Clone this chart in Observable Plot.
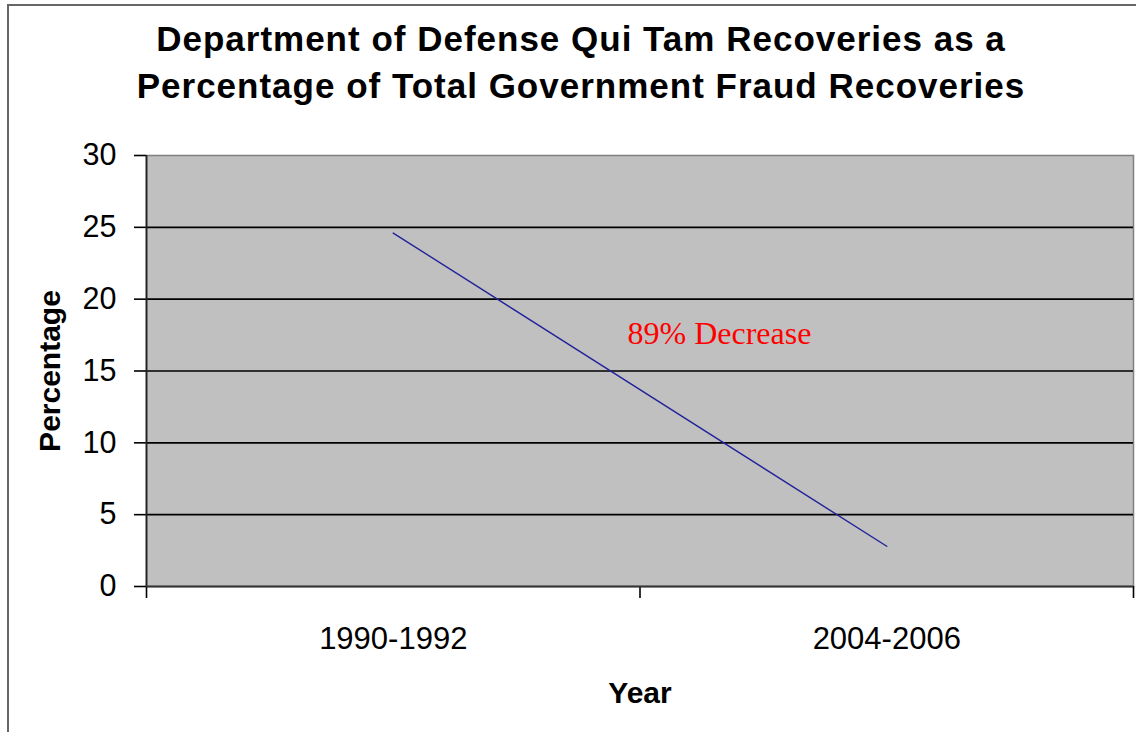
<!DOCTYPE html>
<html>
<head>
<meta charset="utf-8">
<script src="https://cdn.jsdelivr.net/npm/d3@7"></script>
<script src="https://cdn.jsdelivr.net/npm/@observablehq/plot@0.6"></script>
<style>
  html, body { margin: 0; padding: 0; background: white; overflow: hidden; width: 1136px; height: 732px; }
  #title {
    position: absolute; top: 15px; left: 0; width: 1136px; padding-left: 26px; box-sizing: border-box;
    text-align: center; font-family: "Liberation Sans", Arial, sans-serif; font-weight: bold;
    font-size: 35px; line-height: 47px; letter-spacing: 1px; color: #000;
  }
  #chart { position: absolute; top: 120px; left: 0; }
  #border { position: absolute; left: 7px; top: 4px; width: 1300px; height: 900px; border: 2px solid #666; pointer-events: none; z-index: 5; }
</style>
</head>
<body>
<div id="title">Department of Defense Qui Tam Recoveries as a<br>Percentage of Total Government Fraud Recoveries</div>
<div id="chart"></div>
<div id="border"></div>
<script>
const categories = ["1990-1992", "2004-2006"];
const values = [24.6, 2.8];
const yTicks = [0, 5, 10, 15, 20, 25, 30];
const annotationText = "89% Decrease";
const xTitle = "Year";
const yTitle = "Percentage";

const data = categories.map((c, i) => ({ idx: i + 0.5, category: c, value: values[i] }));
const boundaries = d3.range(categories.length + 1);
const mid = [{ idx: d3.mean(data, d => d.idx), value: d3.mean(values), text: annotationText }];

const chart = Plot.plot({
  width: 1136,
  height: 612,
  marginTop: 35,
  marginBottom: 146,
  marginLeft: 146,
  marginRight: 3,
  style: { fontFamily: "'Liberation Sans', Arial, sans-serif", fontSize: "30px", background: "transparent", color: "#000" },
  x: { domain: [0, categories.length], axis: null },
  y: { domain: [0, 30], axis: null },
  marks: [
    Plot.frame({ fill: "#c0c0c0", stroke: "#808080", strokeWidth: 1.5 }),
    Plot.ruleY(yTicks.filter(v => v > 0 && v < 30), { stroke: "#000", strokeWidth: 1.6 }),
    Plot.axisY({ ticks: yTicks, tickSize: 12, tickPadding: 18, label: null, fontSize: 30.5, strokeWidth: 1.6 }),
    Plot.axisX({ ticks: boundaries, tickSize: 12, tickFormat: () => "", label: null, strokeWidth: 1.6 }),
    Plot.axisX({ ticks: data.map(d => d.idx), tickSize: 0, tickPadding: 40, tickFormat: v => categories[Math.round(v - 0.5)], label: null, fontSize: 31 }),
    Plot.ruleX([0], { stroke: "#222", strokeWidth: 1.8 }),
    Plot.ruleY([0], { stroke: "#333", strokeWidth: 2 }),
    Plot.line(data, { x: "idx", y: "value", stroke: "#22229a", strokeWidth: 1.4 }),
    Plot.text(mid, { x: "idx", y: "value", text: "text", textAnchor: "start", lineAnchor: "bottom", dx: -12.5, dy: -46,
      fill: "#ff0000", fontFamily: "'Liberation Serif', 'Times New Roman', serif", fontSize: 32 }),
    Plot.text([xTitle], { frameAnchor: "bottom", lineAnchor: "bottom", dy: 116, fontWeight: "bold", fontSize: 30 }),
    Plot.text([yTitle], { frameAnchor: "left", textAnchor: "middle", rotate: -90, dx: -96, fontWeight: "bold", fontSize: 30 })
  ]
});
document.getElementById("chart").appendChild(chart);
</script>
</body>
</html>
